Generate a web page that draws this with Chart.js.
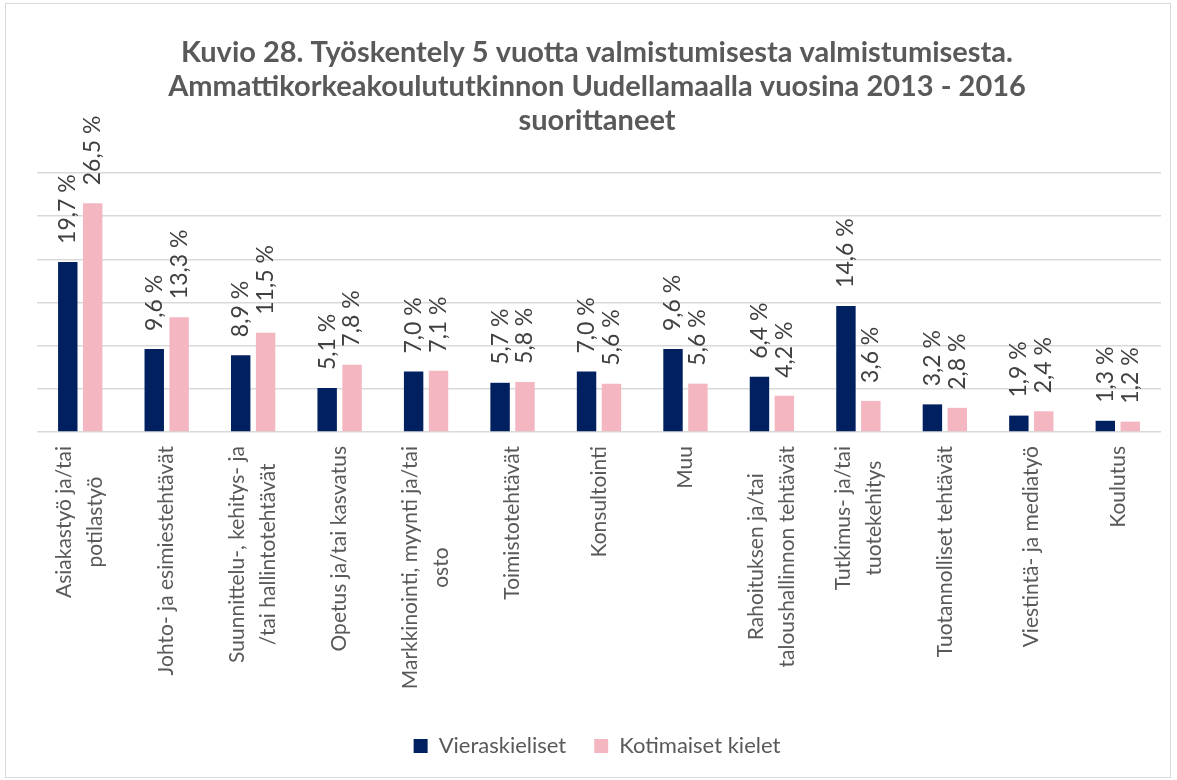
<!DOCTYPE html>
<html>
<head>
<meta charset="utf-8">
<script src="https://cdn.jsdelivr.net/npm/chart.js@4.4.1/dist/chart.umd.min.js"></script>
<style>
  html, body { margin: 0; padding: 0; background: #fff; }
  #wrap { position: relative; width: 1177px; height: 780px; }
  #frame { position: absolute; left: 5px; top: 3px; width: 1164px; height: 773px; border: 1px solid #d9d9d9; pointer-events: none; }
</style>
</head>
<body>
<div id="wrap">
  <canvas id="c" width="1177" height="780"></canvas>
  <div id="frame"></div>
</div>
<script>
// values
const categories = [
  ["Asiakastyö ja/tai", "potilastyö"],
  ["Johto- ja esimiestehtävät"],
  ["Suunnittelu-, kehitys- ja", "/tai hallintotehtävät"],
  ["Opetus ja/tai kasvatus"],
  ["Markkinointi, myynti ja/tai", "osto"],
  ["Toimistotehtävät"],
  ["Konsultointi"],
  ["Muu"],
  ["Rahoituksen ja/tai", "taloushallinnon tehtävät"],
  ["Tutkimus- ja/tai", "tuotekehitys"],
  ["Tuotannolliset tehtävät"],
  ["Viestintä- ja mediatyö"],
  ["Koulutus"]
]
const vieraskieliset = [19.7, 9.6, 8.9, 5.1, 7.0, 5.7, 7.0, 9.6, 6.4, 14.6, 3.2, 1.9, 1.3]
const kotimaiset = [26.5, 13.3, 11.5, 7.8, 7.1, 5.8, 5.6, 5.6, 4.2, 3.6, 2.8, 2.4, 1.2]
const seriesNames = ["Vieraskieliset", "Kotimaiset kielet"]
const titleLines = [
  "Kuvio 28. Työskentely 5 vuotta valmistumisesta valmistumisesta.",
  "Ammattikorkeakoulututkinnon Uudellamaalla vuosina 2013 - 2016",
  "suorittaneet"
]

const FONT = "Lato, 'Open Sans', sans-serif"

const fmt = v => v.toFixed(1).replace(".", ",") + " %"

// rotated value labels above each bar
const valueLabels = {
  id: "valueLabels",
  afterDatasetsDraw(chart) {
    const ctx = chart.ctx
    ctx.save()
    ctx.font = "23px " + FONT
    ctx.fillStyle = "#404040"
    ctx.textAlign = "left"
    ctx.textBaseline = "middle"
    chart.data.datasets.forEach((ds, di) => {
      chart.getDatasetMeta(di).data.forEach((bar, i) => {
        ctx.save()
        ctx.translate(bar.x, bar.y - 18)
        ctx.rotate(-Math.PI / 2)
        ctx.fillText(fmt(ds.data[i]), 0, 0)
        ctx.restore()
      })
    })
    ctx.restore()
  }
}

// rotated category labels, lines centred on each other, block hanging from the axis
const catLabels = {
  id: "catLabels",
  afterDraw(chart) {
    const ctx = chart.ctx
    const xs = chart.scales.x
    const top = chart.chartArea.bottom + 14
    const pitch = 31
    ctx.save()
    ctx.font = "21px " + FONT
    ctx.fillStyle = "#595959"
    ctx.textAlign = "center"
    ctx.textBaseline = "middle"
    categories.forEach((lines, i) => {
      const cx = xs.getPixelForTick(i)
      const maxW = Math.max(...lines.map(l => ctx.measureText(l).width))
      ctx.save()
      ctx.translate(cx, top)
      ctx.rotate(-Math.PI / 2)
      lines.forEach((l, j) => {
        ctx.fillText(l, -maxW / 2, (j - (lines.length - 1) / 2) * pitch)
      })
      ctx.restore()
    })
    ctx.restore()
  }
}

new Chart(document.getElementById("c"), {
  type: "bar",
  data: {
    labels: categories,
    datasets: [
      { label: seriesNames[0], data: vieraskieliset, backgroundColor: "#002060" },
      { label: seriesNames[1], data: kotimaiset, backgroundColor: "#F4B6C0" }
    ]
  },
  options: {
    responsive: false,
    animation: false,
    layout: { padding: { left: 33, right: 16, top: 0, bottom: 13 } },
    datasets: { bar: { barPercentage: 0.78, categoryPercentage: 0.576 } },
    plugins: {
      title: {
        display: true,
        text: titleLines,
        color: "#595959",
        font: { family: FONT, size: 29, weight: "bold", lineHeight: 34 / 29 },
        padding: { top: 36, bottom: 35 }
      },
      legend: {
        position: "bottom",
        labels: {
          color: "#595959",
          font: { family: FONT, size: 22 },
          boxWidth: 14, boxHeight: 14, padding: 28
        }
      },
      tooltip: { enabled: false }
    },
    scales: {
      x: {
        grid: { display: false },
        border: { display: false },
        ticks: { display: false },
        afterFit(s) { s.height = 275 }
      },
      y: {
        min: 0, max: 30,
        ticks: { display: false, stepSize: 5 },
        border: { display: false },
        grid: { color: "#d9d9d9", lineWidth: 1.5, drawTicks: false },
        afterFit(s) { s.width = 4 }
      }
    }
  },
  plugins: [valueLabels, catLabels]
})
</script>
</body>
</html>
